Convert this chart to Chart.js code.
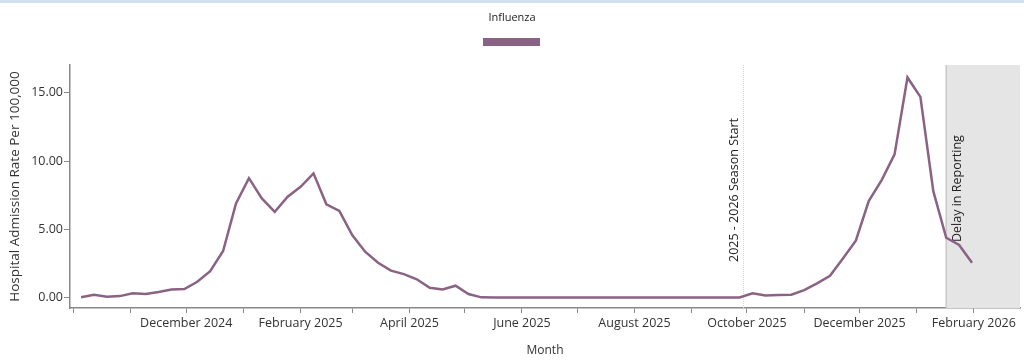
<!DOCTYPE html>
<html>
<head>
<meta charset="utf-8">
<script src="https://cdn.jsdelivr.net/npm/chart.js@4.4.1/dist/chart.umd.min.js"></script>
<style>
  html, body { margin: 0; padding: 0; background: #fff; }
  body { border-top: 3px solid #d3deee; box-sizing: border-box; width: 1024px; height: 362px; }
  #wrap { position: relative; width: 1024px; height: 359px; }
</style>
</head>
<body>
<div id="wrap"><canvas id="fluChart"></canvas></div>
<script>
// weekly rates, week ending Saturday, starting 2024-10-05
const seriesName = 'Influenza';
const firstWeekEnding = '2024-10-05';
const fluRates = [
    0.03, 0.22, 0.07, 0.12, 0.32, 0.27, 0.42, 0.61, 0.64, 1.17,
    1.95, 3.42, 6.90, 8.75, 7.27, 6.29, 7.39, 8.12, 9.10, 6.84,
    6.35, 4.59, 3.37, 2.56, 1.98, 1.73, 1.35, 0.73, 0.61, 0.88,
    0.27, 0.03, 0.02, 0.02, 0.02, 0.02, 0.02, 0.02, 0.02, 0.02,
    0.02, 0.02, 0.02, 0.02, 0.02, 0.02, 0.02, 0.02, 0.02, 0.02,
    0.02, 0.02, 0.32, 0.17, 0.20, 0.22, 0.56, 1.05, 1.61, 2.88,
    4.17, 7.07, 8.61, 10.49, 16.12, 14.70, 7.80, 4.39, 3.86, 2.56
];

// month ticks on the x axis, only every other one gets a label
const monthTicks = ['2024-10-01', '2024-11-01', '2024-12-01', '2025-01-01', '2025-02-01',
    '2025-03-01', '2025-04-01', '2025-05-01', '2025-06-01', '2025-07-01', '2025-08-01',
    '2025-09-01', '2025-10-01', '2025-11-01', '2025-12-01', '2026-01-01', '2026-02-01'];
const monthLabels = ['', '', 'December 2024', '', 'February 2025', '', 'April 2025', '',
    'June 2025', '', 'August 2025', '', 'October 2025', '', 'December 2025', '', 'February 2026'];
const yTicks = [0, 5, 10, 15];

const axisStart = '2024-09-29';
const axisEnd = '2026-02-26';
const seasonStart = '2025-09-29';
const seasonLabel = '2025 - 2026 Season Start';
const delayStart = '2026-01-17';
const delayLabel = 'Delay in Reporting';

const lineColor = '#8a6283';
const fontFamily = "'Open Sans', sans-serif";

// days since Oct 1 2024
const base = Date.UTC(2024, 9, 1);
function dayNum(s) {
    const p = s.split('-');
    return (Date.UTC(+p[0], +p[1] - 1, +p[2]) - base) / 86400000;
}

const firstDay = dayNum(firstWeekEnding);
const points = fluRates.map((v, i) => ({ x: firstDay + i * 7, y: v }));
const tickDays = monthTicks.map(dayNum);

const overlayPlugin = {
    id: 'overlays',
    beforeDatasetsDraw(chart) {
        const { ctx, chartArea, scales } = chart;
        const x = scales.x;
        const dx = x.getPixelForValue(dayNum(delayStart));
        const sx = Math.round(x.getPixelForValue(dayNum(seasonStart))) + 0.5;
        ctx.save();
        // delay in reporting band
        ctx.fillStyle = '#e5e5e5';
        ctx.fillRect(dx, chartArea.top, chartArea.right - dx, chartArea.bottom - chartArea.top);
        ctx.strokeStyle = '#c8c8c8';
        ctx.lineWidth = 1.5;
        ctx.beginPath();
        ctx.moveTo(dx, chartArea.top);
        ctx.lineTo(dx, chartArea.bottom);
        ctx.stroke();
        // season start line
        ctx.strokeStyle = '#d4d4d4';
        ctx.lineWidth = 1;
        ctx.setLineDash([1, 1]);
        ctx.beginPath();
        ctx.moveTo(sx, chartArea.top);
        ctx.lineTo(sx, chartArea.bottom);
        ctx.stroke();
        ctx.setLineDash([]);
        // rotated labels
        ctx.fillStyle = '#222';
        ctx.font = '12.5px ' + fontFamily;
        ctx.textAlign = 'left';
        ctx.textBaseline = 'middle';
        ctx.save();
        ctx.translate(sx - 9, chartArea.bottom - 46);
        ctx.rotate(-Math.PI / 2);
        ctx.fillText(seasonLabel, 0, 0);
        ctx.restore();
        ctx.save();
        ctx.translate(dx + 11, chartArea.bottom - 66);
        ctx.rotate(-Math.PI / 2);
        ctx.fillText(delayLabel, 0, 0);
        ctx.restore();
        ctx.restore();
    },
    afterDraw(chart) {
        // legend: name on top, colour bar below
        const { ctx } = chart;
        const cx = chart.width / 2;
        ctx.save();
        ctx.fillStyle = '#222';
        ctx.font = '11px ' + fontFamily;
        ctx.textAlign = 'center';
        ctx.textBaseline = 'middle';
        ctx.fillText(seriesName, cx, 15);
        ctx.fillStyle = lineColor;
        ctx.fillRect(cx - 29, 35, 57, 8);
        ctx.restore();
    }
};

const ctx = document.getElementById('fluChart').getContext('2d');
new Chart(ctx, {
    type: 'line',
    data: {
        datasets: [{
            label: seriesName,
            data: points,
            borderColor: lineColor,
            backgroundColor: lineColor,
            borderWidth: 2.5,
            pointRadius: 0,
            tension: 0
        }]
    },
    options: {
        responsive: true,
        maintainAspectRatio: false,
        animation: false,
        layout: { padding: { top: 62, right: 4, left: 0, bottom: 0 } },
        plugins: {
            legend: { display: false },
            tooltip: { enabled: false }
        },
        scales: {
            x: {
                type: 'linear',
                min: dayNum(axisStart),
                max: dayNum(axisEnd),
                afterBuildTicks: axis => { axis.ticks = tickDays.map(v => ({ value: v })); },
                afterFit: axis => { axis.height = 54; },
                ticks: {
                    autoSkip: false,
                    maxRotation: 0,
                    padding: 3,
                    color: '#333',
                    font: { family: fontFamily, size: 12.5 },
                    callback: (val, i) => monthLabels[i]
                },
                grid: { drawOnChartArea: false, drawTicks: true, tickLength: 5, color: '#888' },
                border: { color: '#888', width: 1.5 },
                title: {
                    display: true,
                    text: 'Month',
                    color: '#333',
                    font: { family: fontFamily, size: 12 },
                    padding: { top: 0, bottom: 4 }
                }
            },
            y: {
                min: -0.75,
                max: 17.03,
                afterBuildTicks: axis => { axis.ticks = yTicks.map(v => ({ value: v })); },
                afterFit: axis => { axis.width = 70; },
                ticks: {
                    padding: 1,
                    color: '#333',
                    font: { family: fontFamily, size: 12.5 },
                    callback: v => v.toFixed(2)
                },
                grid: { drawOnChartArea: false, drawTicks: true, tickLength: 6, color: '#888' },
                border: { color: '#888', width: 1.5 },
                title: {
                    display: true,
                    text: 'Hospital Admission Rate Per 100,000',
                    color: '#333',
                    font: { family: fontFamily, size: 13.5 },
                    padding: { top: 7, bottom: 0 }
                }
            }
        }
    },
    plugins: [overlayPlugin]
});
</script>
</body>
</html>
